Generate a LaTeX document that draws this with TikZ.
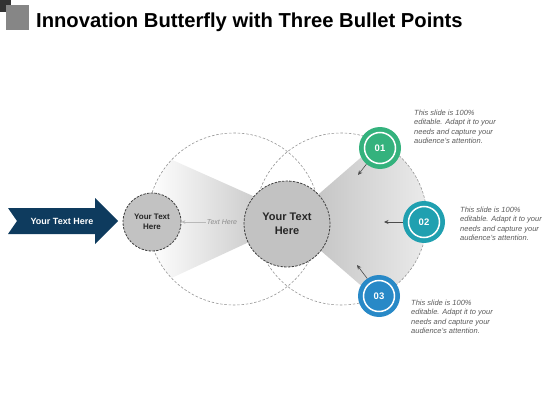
\documentclass[tikz,border=0pt]{standalone}
\usepackage{fontspec}
\setmainfont{Liberation Sans}
\usetikzlibrary{arrows.meta}
\definecolor{navy}{RGB}{14,59,94}
\definecolor{cgreen}{RGB}{52,178,125}
\definecolor{cteal}{RGB}{32,160,176}
\definecolor{cblue}{RGB}{40,137,199}
\definecolor{desc}{RGB}{90,90,90}
\begin{document}
\begin{tikzpicture}[x=1pt,y=-1pt,
  guide/.style={draw=black!42,line width=0.6pt,dash pattern=on 2.5pt off 1.8pt},
  hub/.style={circle,fill=gray!48,draw=black!75,line width=0.8pt,dash pattern=on 2.4pt off 1.3pt,align=center,inner sep=0pt,text=black!85,font=\bfseries},
  numc/.style={circle,minimum size=42pt,inner sep=0pt,text=white,font=\fontsize{9.5}{11}\selectfont\bfseries},
  ring/.style={draw=white,line width=1.5pt},
  desctext/.style={anchor=north west,align=left,inner sep=0pt,text=desc,font=\fontsize{7.5}{9.3}\selectfont\itshape},
  smallarrow/.style={draw=black!70,line width=0.6pt,-{Stealth[length=4.5pt,width=4pt]}}]
\useasboundingbox (0,0) rectangle (560,420);
% title
\fill[black!80] (0,0) rectangle (11,12);
\fill[gray!95!white] (6,5) rectangle (29,30);
\node[anchor=base west,inner sep=0pt,font=\fontsize{20.2}{24}\selectfont\bfseries] (title) at (36,28) {Innovation Butterfly with Three Bullet Points};
% fans
\begin{scope}
\clip (234,219) circle [radius=86pt];
\shade[left color=white,right color=gray!42] (150,150) -- (262,200) -- (262,236) -- (150,288) -- cycle;
\end{scope}
\begin{scope}
\clip (341,219) circle [radius=86pt];
\shade[left color=gray!48,right color=gray!10] (305,206) -- (380,141) -- (450,141) -- (450,305) -- (380,302) -- (305,237) -- cycle;
\end{scope}
% guide circles
\draw[guide] (234,219) circle [radius=86pt];
\draw[guide] (341,219) circle [radius=86pt];
% arrow shape
\fill[navy] (8,208) -- (95,208) -- (95,198) -- (118,221) -- (95,244) -- (95,234) -- (8,234) -- (17,221) -- cycle;
\node[text=white,font=\fontsize{9}{11}\selectfont\bfseries] (arrowtext) at (62,221) {Your Text Here};
% hubs
\node[hub,minimum size=58pt,font=\fontsize{8}{9.5}\selectfont\bfseries] (sc) at (152,222) {Your Text\\Here};
\node[hub,minimum size=86pt,font=\fontsize{11}{13.5}\selectfont\bfseries] (bc) at (287,224) {Your Text\\Here};
\node[inner sep=1pt,text=gray!90,font=\fontsize{7}{8}\selectfont\itshape] (tl) at (222,222) {Text Here};
\draw[draw=gray!55,line width=0.6pt,-{Stealth[length=4pt,width=3.5pt]}] (tl.west) -- (sc.east);
% number circles
\node[numc,fill=cgreen] (n1) at (380,148) {01};
\draw[ring] (n1.center) circle [radius=15.5pt];
\node[numc,fill=cteal] (n2) at (424,222) {02};
\draw[ring] (n2.center) circle [radius=15.5pt];
\node[numc,fill=cblue] (n3) at (379,296) {03};
\draw[ring] (n3.center) circle [radius=15.5pt];
\coordinate (e1) at (358,175);
\coordinate (e2) at (384,222);
\coordinate (e3) at (357,265);
\draw[smallarrow] (n1.230) -- (e1);
\draw[smallarrow] (n2.west) -- (e2);
\draw[smallarrow] (n3.124) -- (e3);
% descriptions
\node[desctext] (d1) at (414,110) {This slide is 100\%\\editable. Adapt it to your\\needs and capture your\\audience's attention.};
\node[desctext] (d2) at (460,207) {This slide is 100\%\\editable. Adapt it to your\\needs and capture your\\audience's attention.};
\node[desctext] (d3) at (411,300) {This slide is 100\%\\editable. Adapt it to your\\needs and capture your\\audience's attention.};
\end{tikzpicture}
\end{document}
